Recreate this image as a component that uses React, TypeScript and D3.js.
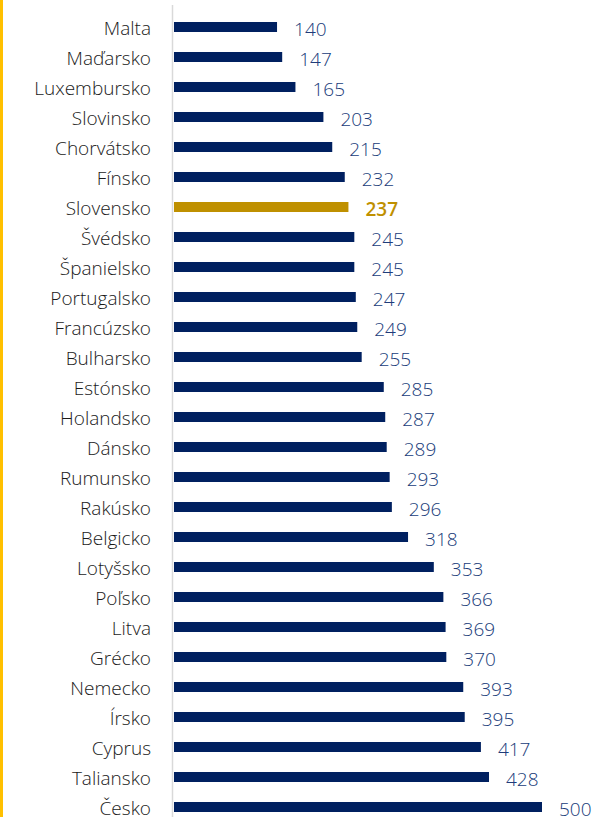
import React from "react";
import * as d3 from "d3";

const countries = ["Malta","Maďarsko","Luxembursko","Slovinsko","Chorvátsko","Fínsko","Slovensko","Švédsko","Španielsko","Portugalsko","Francúzsko","Bulharsko","Estónsko","Holandsko","Dánsko","Rumunsko","Rakúsko","Belgicko","Lotyšsko","Poľsko","Litva","Grécko","Nemecko","Írsko","Cyprus","Taliansko","Česko"];
const values = [140,147,165,203,215,232,237,245,245,247,249,255,285,287,289,293,296,318,353,366,369,370,393,395,417,428,500];
const highlight = "Slovensko";

export default function App() {
  const W = 595, H = 817;
  const x = d3.scaleLinear().domain([0, 500]).range([174, 542]);
  const y = d3.scaleBand().domain(countries).range([12, 822]).paddingInner(2 / 3).paddingOuter(1 / 3);
  const font = "'Open Sans', sans-serif";
  return (
    <svg width={W} height={H} style={{ position: "absolute", left: 0, top: 0, background: "#fff" }}>
      <rect x={0} y={0} width={3} height={H} fill="#ffc000" />
      <line x1={172.5} x2={172.5} y1={5} y2={H} stroke="#d9d9d9" strokeWidth={1.5} />
      {countries.map((c, i) => {
        const v = values[i];
        const hl = c === highlight;
        const yc = (y(c) as number) + y.bandwidth() / 2;
        return (
          <g key={c}>
            <rect x={x(0)} y={y(c)} width={x(v) - x(0)} height={y.bandwidth()} fill={hl ? "#bf9000" : "#002060"} />
            <text x={151} y={yc + 1} textAnchor="end" dominantBaseline="central" fontFamily={font} fontWeight={300} fontSize={19} fill="#1a1a1a">{c}</text>
            <text x={x(v) + 17} y={yc + 1.5} dominantBaseline="central" fontFamily={font} fontSize={19} fontWeight={hl ? 600 : 300} fill={hl ? "#bf9000" : "#203c7a"}>{v}</text>
          </g>
        );
      })}
    </svg>
  );
}
